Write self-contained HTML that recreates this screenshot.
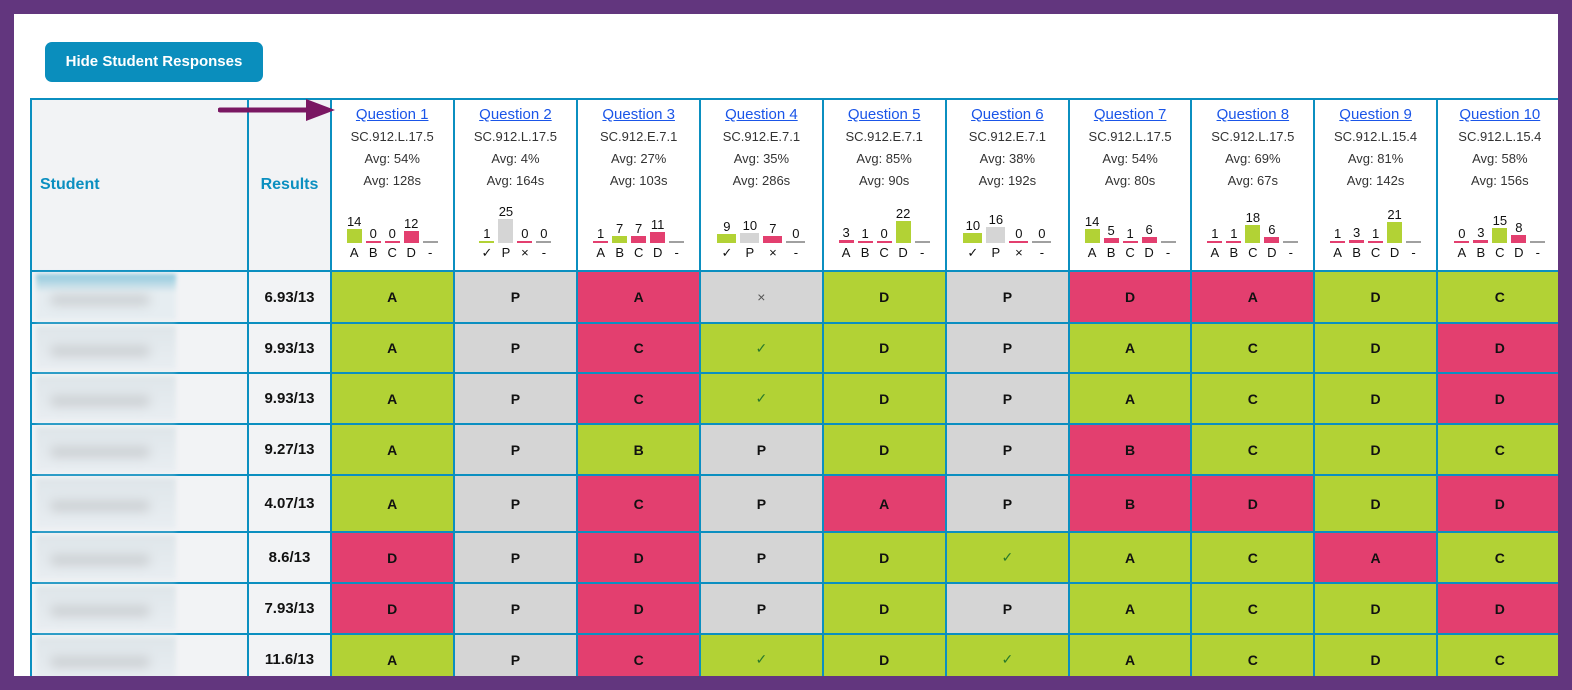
<!DOCTYPE html>
<html><head><meta charset="utf-8"><style>
*{box-sizing:border-box;margin:0;padding:0}
body{width:1572px;height:690px;background:#62367e;position:relative;overflow:hidden;font-family:"Liberation Sans",Arial,sans-serif}
#panel{position:absolute;left:14px;top:14px;width:1544px;height:662px;background:#fff;overflow:hidden}
#btn{position:absolute;left:31px;top:28px;width:218px;height:40px;background:#0a8ebd;border-radius:7px;color:#fff;font-weight:bold;font-size:15px;line-height:40px;text-align:center}
table{position:absolute;left:16px;top:84px;border-collapse:collapse;table-layout:fixed;width:1534px}
td,th{border:2px solid #0b8fc0;text-align:center;padding:0}
th.s,th.r{background:#f2f3f5;color:#0b8fc0;font-size:16px;font-weight:bold}
th.s{text-align:left;padding-left:8px}
th.q{background:#fff;vertical-align:top;font-weight:normal;padding-top:4px;color:#333;font-size:13px;line-height:22px}
th.q a{color:#1a55e8;text-decoration:underline;font-size:15px}
.ch{display:flex;justify-content:center;gap:4px;height:51px;align-items:flex-end;margin-top:0px}
.ch div{width:15px;display:flex;flex-direction:column;align-items:center;font-size:13px;color:#111;line-height:14px}
.ch i{display:block;width:15px}
.lb{display:flex;justify-content:center;gap:4px;font-size:13px;color:#111;line-height:16px;margin-top:2px}
.lb span{width:15px}
.g{background:#b2d235}.p{background:#e33f6f}.y{background:#d5d5d5}.z{background:#a0a0a0}
td{font-weight:bold;font-size:14px;color:#111}
td.n{background:#f2f3f5;position:relative}
td.n div{position:absolute;left:4px;top:2px;width:140px;bottom:2px;background:linear-gradient(#dfe6ea,#e9eef2);filter:blur(2px)}
td.n div::after{content:"";position:absolute;left:14px;top:45%;width:100px;height:10px;background:#c9cdd0;filter:blur(5px);border-radius:5px}
td.r{background:#f2f3f5;font-size:15px}
td.k{color:#2a7a2a;font-weight:normal}
td.x{color:#555;font-weight:normal}
#arr{position:absolute;left:218px;top:99px}
</style></head><body>
<div id="panel">
<div id="btn">Hide Student Responses</div>
<table>
<colgroup><col style="width:217px"><col style="width:82px"><col style="width:123px"><col style="width:123px"><col style="width:123px"><col style="width:122px"><col style="width:123px"><col style="width:123px"><col style="width:122px"><col style="width:123px"><col style="width:122px"><col style="width:126px"></colgroup>
<tr style="height:172px"><th class="s">Student</th><th class="r">Results</th>
<th class="q"><a>Question 1</a><br>SC.912.L.17.5<br>Avg: 54%<br>Avg: 128s<div class="ch"><div>14<i class="g" style="height:14px"></i></div><div>0<i class="p" style="height:2px"></i></div><div>0<i class="p" style="height:2px"></i></div><div>12<i class="p" style="height:12px"></i></div><div><i class="z" style="height:2px"></i></div></div><div class="lb"><span>A</span><span>B</span><span>C</span><span>D</span><span>-</span></div></th>
<th class="q"><a>Question 2</a><br>SC.912.L.17.5<br>Avg: 4%<br>Avg: 164s<div class="ch"><div>1<i class="g" style="height:2px"></i></div><div>25<i class="y" style="height:24px"></i></div><div>0<i class="p" style="height:2px"></i></div><div>0<i class="z" style="height:2px"></i></div></div><div class="lb"><span>✓</span><span>P</span><span>×</span><span>-</span></div></th>
<th class="q"><a>Question 3</a><br>SC.912.E.7.1<br>Avg: 27%<br>Avg: 103s<div class="ch"><div>1<i class="p" style="height:2px"></i></div><div>7<i class="g" style="height:7px"></i></div><div>7<i class="p" style="height:7px"></i></div><div>11<i class="p" style="height:11px"></i></div><div><i class="z" style="height:2px"></i></div></div><div class="lb"><span>A</span><span>B</span><span>C</span><span>D</span><span>-</span></div></th>
<th class="q"><a>Question 4</a><br>SC.912.E.7.1<br>Avg: 35%<br>Avg: 286s<div class="ch" style="gap:4px"><div style="width:19px">9<i class="g" style="height:9px;width:19px"></i></div><div style="width:19px">10<i class="y" style="height:10px;width:19px"></i></div><div style="width:19px">7<i class="p" style="height:7px;width:19px"></i></div><div style="width:19px">0<i class="z" style="height:2px;width:19px"></i></div></div><div class="lb"><span style="width:19px">✓</span><span style="width:19px">P</span><span style="width:19px">×</span><span style="width:19px">-</span></div></th>
<th class="q"><a>Question 5</a><br>SC.912.E.7.1<br>Avg: 85%<br>Avg: 90s<div class="ch"><div>3<i class="p" style="height:3px"></i></div><div>1<i class="p" style="height:2px"></i></div><div>0<i class="p" style="height:2px"></i></div><div>22<i class="g" style="height:22px"></i></div><div><i class="z" style="height:2px"></i></div></div><div class="lb"><span>A</span><span>B</span><span>C</span><span>D</span><span>-</span></div></th>
<th class="q"><a>Question 6</a><br>SC.912.E.7.1<br>Avg: 38%<br>Avg: 192s<div class="ch"><div style="width:19px">10<i class="g" style="height:10px;width:19px"></i></div><div style="width:19px">16<i class="y" style="height:16px;width:19px"></i></div><div style="width:19px">0<i class="p" style="height:2px;width:19px"></i></div><div style="width:19px">0<i class="z" style="height:2px;width:19px"></i></div></div><div class="lb"><span style="width:19px">✓</span><span style="width:19px">P</span><span style="width:19px">×</span><span style="width:19px">-</span></div></th>
<th class="q"><a>Question 7</a><br>SC.912.L.17.5<br>Avg: 54%<br>Avg: 80s<div class="ch"><div>14<i class="g" style="height:14px"></i></div><div>5<i class="p" style="height:5px"></i></div><div>1<i class="p" style="height:2px"></i></div><div>6<i class="p" style="height:6px"></i></div><div><i class="z" style="height:2px"></i></div></div><div class="lb"><span>A</span><span>B</span><span>C</span><span>D</span><span>-</span></div></th>
<th class="q"><a>Question 8</a><br>SC.912.L.17.5<br>Avg: 69%<br>Avg: 67s<div class="ch"><div>1<i class="p" style="height:2px"></i></div><div>1<i class="p" style="height:2px"></i></div><div>18<i class="g" style="height:18px"></i></div><div>6<i class="p" style="height:6px"></i></div><div><i class="z" style="height:2px"></i></div></div><div class="lb"><span>A</span><span>B</span><span>C</span><span>D</span><span>-</span></div></th>
<th class="q"><a>Question 9</a><br>SC.912.L.15.4<br>Avg: 81%<br>Avg: 142s<div class="ch"><div>1<i class="p" style="height:2px"></i></div><div>3<i class="p" style="height:3px"></i></div><div>1<i class="p" style="height:2px"></i></div><div>21<i class="g" style="height:21px"></i></div><div><i class="z" style="height:2px"></i></div></div><div class="lb"><span>A</span><span>B</span><span>C</span><span>D</span><span>-</span></div></th>
<th class="q"><a>Question 10</a><br>SC.912.L.15.4<br>Avg: 58%<br>Avg: 156s<div class="ch"><div>0<i class="p" style="height:2px"></i></div><div>3<i class="p" style="height:3px"></i></div><div>15<i class="g" style="height:15px"></i></div><div>8<i class="p" style="height:8px"></i></div><div><i class="z" style="height:2px"></i></div></div><div class="lb"><span>A</span><span>B</span><span>C</span><span>D</span><span>-</span></div></th>
</tr>
<tr style="height:52px"><td class="n"><div style="background:linear-gradient(#8cc8dc,#e6edf1 40%)"></div></td><td class="r">6.93/13</td><td class="g">A</td><td class="y">P</td><td class="p">A</td><td class="y x">×</td><td class="g">D</td><td class="y">P</td><td class="p">D</td><td class="p">A</td><td class="g">D</td><td class="g">C</td></tr>
<tr style="height:50px"><td class="n"><div></div></td><td class="r">9.93/13</td><td class="g">A</td><td class="y">P</td><td class="p">C</td><td class="g k">✓</td><td class="g">D</td><td class="y">P</td><td class="g">A</td><td class="g">C</td><td class="g">D</td><td class="p">D</td></tr>
<tr style="height:51px"><td class="n"><div></div></td><td class="r">9.93/13</td><td class="g">A</td><td class="y">P</td><td class="p">C</td><td class="g k">✓</td><td class="g">D</td><td class="y">P</td><td class="g">A</td><td class="g">C</td><td class="g">D</td><td class="p">D</td></tr>
<tr style="height:51px"><td class="n"><div></div></td><td class="r">9.27/13</td><td class="g">A</td><td class="y">P</td><td class="g">B</td><td class="y">P</td><td class="g">D</td><td class="y">P</td><td class="p">B</td><td class="g">C</td><td class="g">D</td><td class="g">C</td></tr>
<tr style="height:57px"><td class="n"><div></div></td><td class="r">4.07/13</td><td class="g">A</td><td class="y">P</td><td class="p">C</td><td class="y">P</td><td class="p">A</td><td class="y">P</td><td class="p">B</td><td class="p">D</td><td class="g">D</td><td class="p">D</td></tr>
<tr style="height:51px"><td class="n"><div></div></td><td class="r">8.6/13</td><td class="p">D</td><td class="y">P</td><td class="p">D</td><td class="y">P</td><td class="g">D</td><td class="g k">✓</td><td class="g">A</td><td class="g">C</td><td class="p">A</td><td class="g">C</td></tr>
<tr style="height:51px"><td class="n"><div></div></td><td class="r">7.93/13</td><td class="p">D</td><td class="y">P</td><td class="p">D</td><td class="y">P</td><td class="g">D</td><td class="y">P</td><td class="g">A</td><td class="g">C</td><td class="g">D</td><td class="p">D</td></tr>
<tr style="height:51px"><td class="n"><div></div></td><td class="r">11.6/13</td><td class="g">A</td><td class="y">P</td><td class="p">C</td><td class="g k">✓</td><td class="g">D</td><td class="g k">✓</td><td class="g">A</td><td class="g">C</td><td class="g">D</td><td class="g">C</td></tr>
</table>
</div>
<svg id="arr" width="120" height="24"><line x1="2" y1="11" x2="90" y2="11" stroke="#7a1762" stroke-width="5" stroke-linecap="round"/><polygon points="88,0 117,11 88,22" fill="#7a1762"/></svg>
</body></html>
